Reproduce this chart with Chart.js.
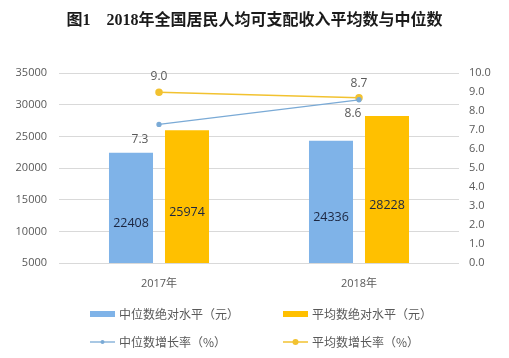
<!DOCTYPE html>
<html><head><meta charset="utf-8">
<script src="https://cdn.jsdelivr.net/npm/chart.js@4.4.1/dist/chart.umd.min.js"></script>
<style>html,body{margin:0;padding:0;background:#fff;}#wrap{width:509px;height:358px;}</style>
</head><body><div id="wrap"><canvas id="c" width="509" height="358"></canvas></div>
<script>
const categories = ['2017年', '2018年'];
const medianIncome = [22408, 24336];
const meanIncome = [25974, 28228];
const medianGrowth = [7.3, 8.6];
const meanGrowth = [9.0, 8.7];
const leftTicks = [5000, 10000, 15000, 20000, 25000, 30000, 35000];
const rightTicks = [0, 1, 2, 3, 4, 5, 6, 7, 8, 9, 10];
const seriesNames = ['中位数绝对水平（元）', '平均数绝对水平（元）', '中位数增长率（%）', '平均数增长率（%）'];
const titleText = '图1　2018年全国居民人均可支配收入平均数与中位数';

const BLUE = '#7fb3e8', ORANGE = '#ffc000', LBLUE = '#7aaad6', LORANGE = '#f2c230';
const tickFont = {family: "'Open Sans','Noto Sans CJK SC',sans-serif", size: 11};
const labelOffsets = {2: [[-19, 15], [-6, 14]], 3: [[0, -16], [0, -14]]};

const labelsPlugin = {
  id: 'valueLabels',
  afterDatasetsDraw(chart) {
    const ctx = chart.ctx;
    ctx.save();
    ctx.textAlign = 'center'; ctx.textBaseline = 'middle';
    chart.data.datasets.forEach((ds, di) => {
      const meta = chart.getDatasetMeta(di);
      meta.data.forEach((el, i) => {
        if (ds.type === 'bar') {
          ctx.font = "12.5px 'Open Sans','Noto Sans CJK SC',sans-serif";
          ctx.fillStyle = '#1c2640';
          ctx.fillText(String(ds.data[i]), el.x, (el.y + el.base) / 2);
        } else {
          const off = labelOffsets[di][i];
          ctx.font = "12px 'Open Sans','Noto Sans CJK SC',sans-serif";
          ctx.fillStyle = '#595959';
          ctx.fillText(ds.data[i].toFixed(1), el.x + off[0], el.y + off[1]);
        }
      });
    });
    ctx.restore();
  }
};

const legendPlugin = {
  id: 'gridLegend',
  afterDraw(chart) {
    const ctx = chart.ctx;
    ctx.save();
    ctx.font = "12px 'Noto Sans CJK SC',sans-serif";
    ctx.textBaseline = 'middle'; ctx.textAlign = 'left';
    const cols = [90, 283], rows = [314, 342];
    chart.data.datasets.forEach((ds, di) => {
      const x = cols[di % 2], y = rows[Math.floor(di / 2)];
      if (ds.type === 'bar') {
        ctx.fillStyle = ds.backgroundColor;
        ctx.fillRect(x, y - 3, 25, 6);
      } else {
        ctx.strokeStyle = ds.borderColor; ctx.lineWidth = ds.borderWidth;
        ctx.beginPath(); ctx.moveTo(x, y); ctx.lineTo(x + 25, y); ctx.stroke();
        ctx.fillStyle = ds.pointBackgroundColor;
        ctx.beginPath(); ctx.arc(x + 12.5, y, ds.pointRadius, 0, Math.PI * 2); ctx.fill();
      }
      ctx.fillStyle = '#595959';
      ctx.fillText(ds.label, x + 29, y);
    });
    ctx.restore();
  }
};

new Chart(document.getElementById('c'), {
  type: 'bar',
  data: {
    labels: categories,
    datasets: [
      {type: 'bar', label: seriesNames[0], data: medianIncome, backgroundColor: BLUE, yAxisID: 'y', order: 2, categoryPercentage: 0.56, barPercentage: 0.786},
      {type: 'bar', label: seriesNames[1], data: meanIncome, backgroundColor: ORANGE, yAxisID: 'y', order: 2, categoryPercentage: 0.56, barPercentage: 0.786},
      {type: 'line', label: seriesNames[2], data: medianGrowth, borderColor: LBLUE, backgroundColor: LBLUE, pointBackgroundColor: LBLUE, pointBorderColor: LBLUE, borderWidth: 1.3, pointRadius: 2, yAxisID: 'y1', order: 1},
      {type: 'line', label: seriesNames[3], data: meanGrowth, borderColor: LORANGE, backgroundColor: LORANGE, pointBackgroundColor: LORANGE, pointBorderColor: LORANGE, borderWidth: 1.5, pointRadius: 3, yAxisID: 'y1', order: 1}
    ]
  },
  options: {
    responsive: false, animation: false,
    layout: {padding: {top: 0, bottom: 62, left: 0, right: 0}},
    plugins: {
      legend: {display: false}, tooltip: {enabled: false},
      title: {display: true, text: titleText, color: '#1a1a1a', font: {family: "'Liberation Serif','Noto Sans CJK SC',serif", size: 16, weight: 'bold'}, padding: {top: 11, bottom: 43}}
    },
    scales: {
      x: {grid: {display: false}, border: {display: false}, ticks: {color: '#595959', font: tickFont, padding: 6},
          afterFit(s) { s.height = 33; }},
      y: {position: 'left', min: 5000, max: 35000, afterBuildTicks(s) { s.ticks = leftTicks.map(v => ({value: v})); },
          grid: {color: '#d9d9d9', drawTicks: false}, border: {display: false},
          ticks: {color: '#595959', font: tickFont, padding: 12, callback: v => String(v)},
          afterFit(s) { s.width = 59; }},
      y1: {position: 'right', min: 0, max: 10, afterBuildTicks(s) { s.ticks = rightTicks.map(v => ({value: v})); },
          grid: {display: false, drawTicks: false}, border: {display: false},
          ticks: {color: '#595959', font: tickFont, padding: 10, callback: v => Number(v).toFixed(1)},
          afterFit(s) { s.width = 50; }}
    }
  },
  plugins: [labelsPlugin, legendPlugin]
});
</script></body></html>
